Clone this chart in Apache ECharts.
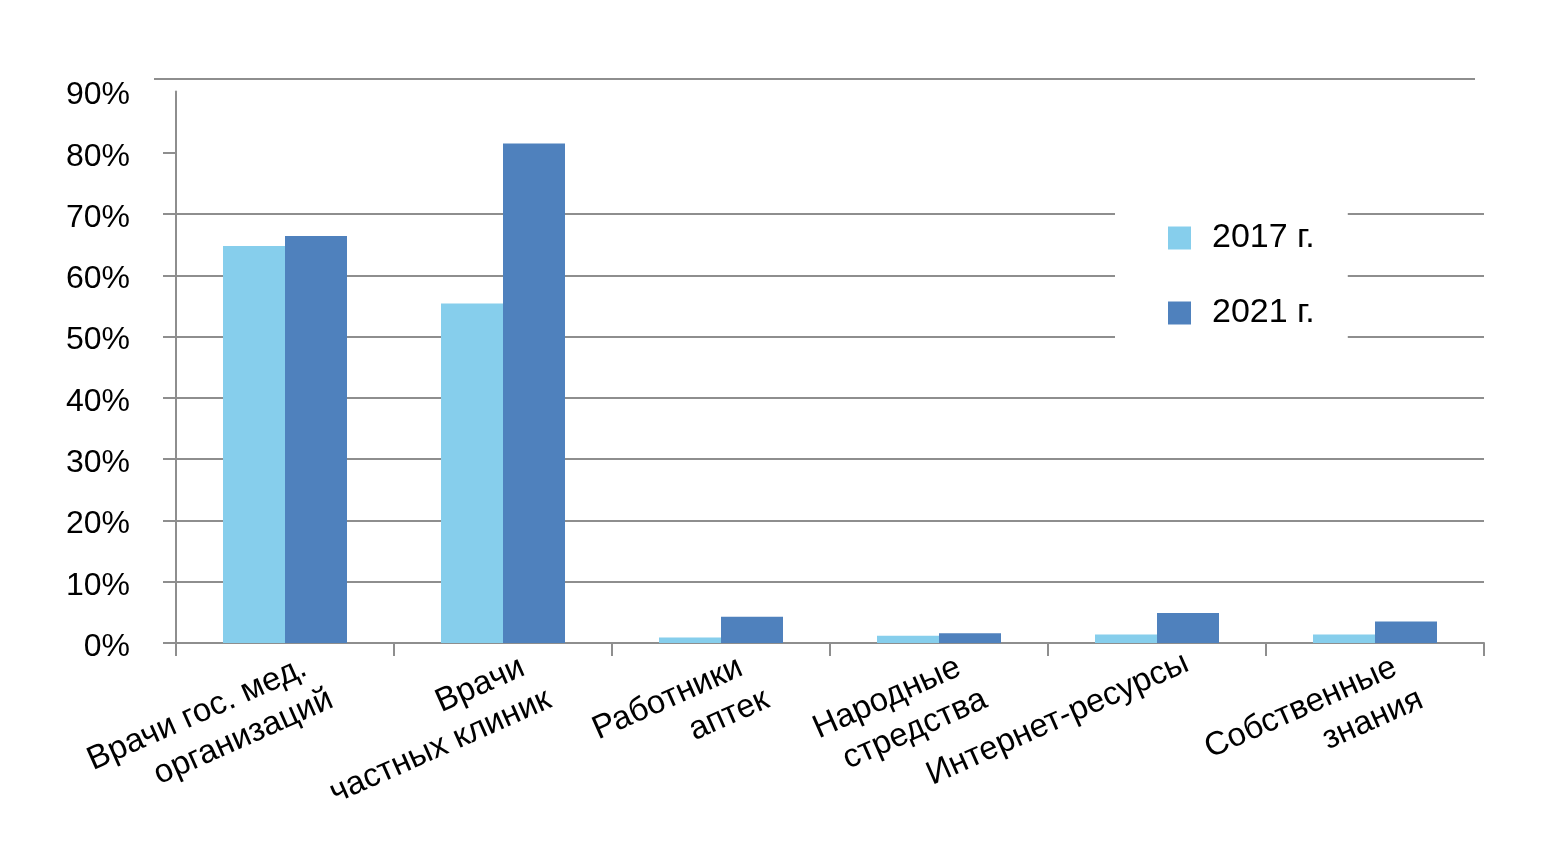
<!DOCTYPE html>
<html>
<head>
<meta charset="utf-8">
<script src="https://cdn.jsdelivr.net/npm/echarts@6/dist/echarts.min.js"></script>
<style>
html,body{margin:0;padding:0;background:#fff;}
#chart{width:1565px;height:853px;}
</style>
</head>
<body>
<div id="chart"></div>
<script>
const categories = ['Врачи гос. мед.\nорганизаций', 'Врачи\nчастных клиник', 'Работники\nаптек', 'Народные\nстредства', 'Интернет-ресурсы', 'Собственные\nзнания'];
const seriesNames = ['2017 г.', '2021 г.'];
const values2017 = [64.8, 55.4, 0.9, 1.2, 1.4, 1.4];
const values2021 = [66.4, 81.5, 4.3, 1.6, 4.9, 3.5];
const yTickValues = [0, 10, 20, 30, 40, 50, 60, 70, 80, 90];

const gray = '#8e8e8e';
const font = "'Liberation Sans', Arial, sans-serif";
const xLabelFont = { fontSize: 33, lineHeight: 40, color: '#000', fontFamily: font };

const chart = echarts.init(document.getElementById('chart'));
chart.setOption({
  animation: false,
  backgroundColor: '#fff',
  textStyle: { fontFamily: font },
  grid: { left: 176, right: 81, top: 91.5, bottom: 210, containLabel: false },
  legend: {
    orient: 'vertical',
    left: 1115,
    top: 199,
    backgroundColor: '#fff',
    padding: [20, 33, 30, 53],
    itemWidth: 23,
    itemHeight: 23,
    itemGap: 37,
    icon: 'rect',
    textStyle: { fontSize: 34, color: '#000', lineHeight: 38, padding: [0, 0, 0, 16], fontFamily: font },
    data: seriesNames
  },
  xAxis: {
    type: 'category',
    data: categories,
    axisLine: { show: true, lineStyle: { color: gray, width: 2 } },
    axisTick: { show: true, length: 13, lineStyle: { color: gray, width: 2 } },
    axisLabel: {
      interval: 0,
      rotate: 24,
      fontSize: 33,
      lineHeight: 40,
      color: '#000',
      margin: 10,
      align: 'right',
      verticalAlign: 'top',
      padding: [0, -24, 0, 0],
      hideOverlap: false,
      fontFamily: font,
      formatter: function (v) {
        const lines = v.split('\n');
        if (lines.length === 1) return '{b|' + v + '}';
        return lines.map((s, i) => (i === 0 ? '{a|' + s + '}' : '{b|' + s + '}')).join('\n');
      },
      rich: {
        a: Object.assign({ padding: [0, 11, 0, 0] }, xLabelFont),
        b: Object.assign({}, xLabelFont)
      }
    }
  },
  yAxis: {
    type: 'value',
    min: 0,
    max: 90,
    interval: 10,
    axisLine: { show: true, lineStyle: { color: gray, width: 2 } },
    axisTick: { show: true, length: 13, lineStyle: { color: gray, width: 2 }, customValues: yTickValues.slice(0, -1) },
    axisLabel: {
      fontSize: 32, color: '#000', margin: 46, fontFamily: font,
      formatter: v => '{v|' + v + '%}',
      rich: { v: { fontSize: 32, lineHeight: 34, color: '#000', fontFamily: font, padding: [8, 0, 0, 0] } }
    },
    splitLine: { show: true, showMaxLine: false, lineStyle: { color: gray, width: 2 } }
  },
  graphic: [{
    type: 'line',
    shape: { x1: 154, y1: 79, x2: 1475, y2: 79 },
    style: { stroke: gray, lineWidth: 2 },
    silent: true
  }],
  series: [
    { name: seriesNames[0], type: 'bar', data: values2017, barWidth: 62, barGap: '0%', itemStyle: { color: '#86CEEC' } },
    { name: seriesNames[1], type: 'bar', data: values2021, barWidth: 62, barGap: '0%', itemStyle: { color: '#4F81BD' } }
  ]
});
</script>
</body>
</html>
